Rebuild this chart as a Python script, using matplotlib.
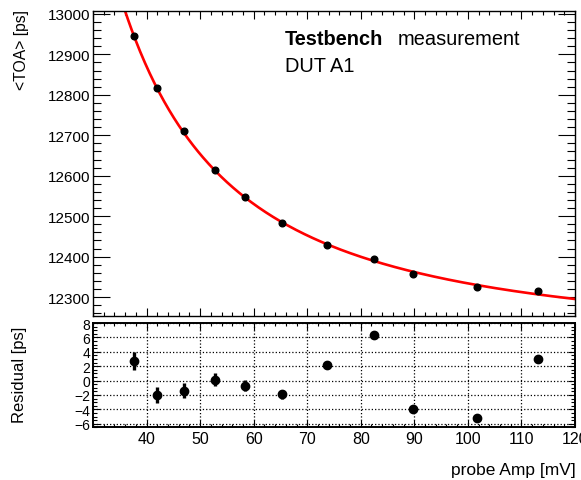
import matplotlib
matplotlib.use("Agg")
import matplotlib.pyplot as plt
import numpy as np
from matplotlib.ticker import MultipleLocator

plt.rcParams.update({
    "font.family": "Liberation Sans",
    "axes.linewidth": 1.0,
    "xtick.direction": "in",
    "ytick.direction": "in",
    "xtick.top": True,
    "ytick.right": True,
    "xtick.color": "black",
    "ytick.color": "black",
})

# probe amplitude scan, DUT A1
amp_mv = [37.6, 41.9, 46.9, 52.8, 58.4, 65.2, 73.7, 82.5, 89.7, 101.7, 113.0]
toa_ps = [12946, 12817, 12710, 12615, 12547, 12482, 12430, 12394, 12356, 12325, 12314]
resid_ps = [2.7, -2.0, -1.4, 0.1, -0.7, -1.9, 2.1, 6.4, -4.0, -5.2, 2.95]
resid_err = [1.3, 1.15, 1.0, 0.9, 0.75, 0.62, 0.55, 0.45, 0.3, 0.3, 0.3]

x = np.array(amp_mv)
y = np.array(toa_ps)

# time-walk fit: TOA = p0 + p1/A + p2/A^2
coef = np.polyfit(1.0 / x, y, 2)
xf = np.linspace(30, 120, 400)
yf = np.polyval(coef, 1.0 / xf)

W, H = 581, 481
fig = plt.figure(figsize=(W / 100, H / 100), dpi=100)
ax = fig.add_axes([93 / W, 1 - 316.7 / H, 482 / W, 305 / H])
axr = fig.add_axes([93 / W, 1 - 428.3 / H, 482 / W, 104.3 / H])

# ---- upper pad: mean TOA vs amplitude ----
ax.plot(xf, yf, color="red", lw=1.9, zorder=2)
ax.plot(x, y, "o", color="black", ms=4.8, zorder=3)
ax.set_xlim(30, 120)
ax.set_ylim(12254, 13008)
ax.xaxis.set_major_locator(MultipleLocator(10))
ax.xaxis.set_minor_locator(MultipleLocator(2))
ax.yaxis.set_major_locator(MultipleLocator(100))
ax.yaxis.set_minor_locator(MultipleLocator(20))
ax.tick_params(axis="x", which="major", length=6, width=0.8, labelbottom=False)
ax.tick_params(axis="x", which="minor", length=3, width=0.8)
ax.tick_params(axis="y", which="major", length=12, width=0.8, labelsize=11, pad=2)
ax.tick_params(axis="y", which="minor", length=6, width=0.8)

fig.text(285 / W, 1 - 45 / H, "Testbench", fontsize=14.4, fontweight="bold",
         ha="left", va="baseline")
fig.text(398 / W, 1 - 45 / H, "measurement", fontsize=14.4,
         ha="left", va="baseline")
fig.text(285 / W, 1 - 71.7 / H, "DUT A1", fontsize=14.4,
         ha="left", va="baseline")

# ---- lower pad: residuals ----
axr.errorbar(x, resid_ps, yerr=resid_err, fmt="o", color="black", ms=6,
             elinewidth=2.4, capsize=0, zorder=3)
axr.set_xlim(30, 120)
axr.set_ylim(-6.5, 8.0)
axr.xaxis.set_major_locator(MultipleLocator(10))
axr.xaxis.set_minor_locator(MultipleLocator(2))
axr.yaxis.set_major_locator(MultipleLocator(2))
axr.yaxis.set_minor_locator(MultipleLocator(0.5))
axr.grid(True, which="major", color="black", linestyle=":", linewidth=0.9)
axr.tick_params(axis="x", which="major", length=5, width=0.8, labelsize=11.5, pad=3)
axr.tick_params(axis="x", which="minor", length=2.5, width=0.8)
axr.tick_params(axis="y", which="major", length=5, width=0.8, labelsize=10, pad=2)
axr.tick_params(axis="y", which="minor", length=3, width=0.8)
axr.set_xticks([40, 50, 60, 70, 80, 90, 100, 110, 120])
for sp in axr.spines.values():
    sp.set_linewidth(1.4)

fig.text(22 / W, 1 - 10 / H, "<TOA> [ps]", rotation=90, fontsize=11.3,
         ha="center", va="top")
fig.text(20 / W, 1 - 375 / H, "Residual [ps]", rotation=90, fontsize=12,
         ha="center", va="center")
fig.text(576 / W, 1 - 470.5 / H, "probe Amp [mV]", fontsize=12.5,
         ha="right", va="center")

fig.savefig("out.png", dpi=100)
